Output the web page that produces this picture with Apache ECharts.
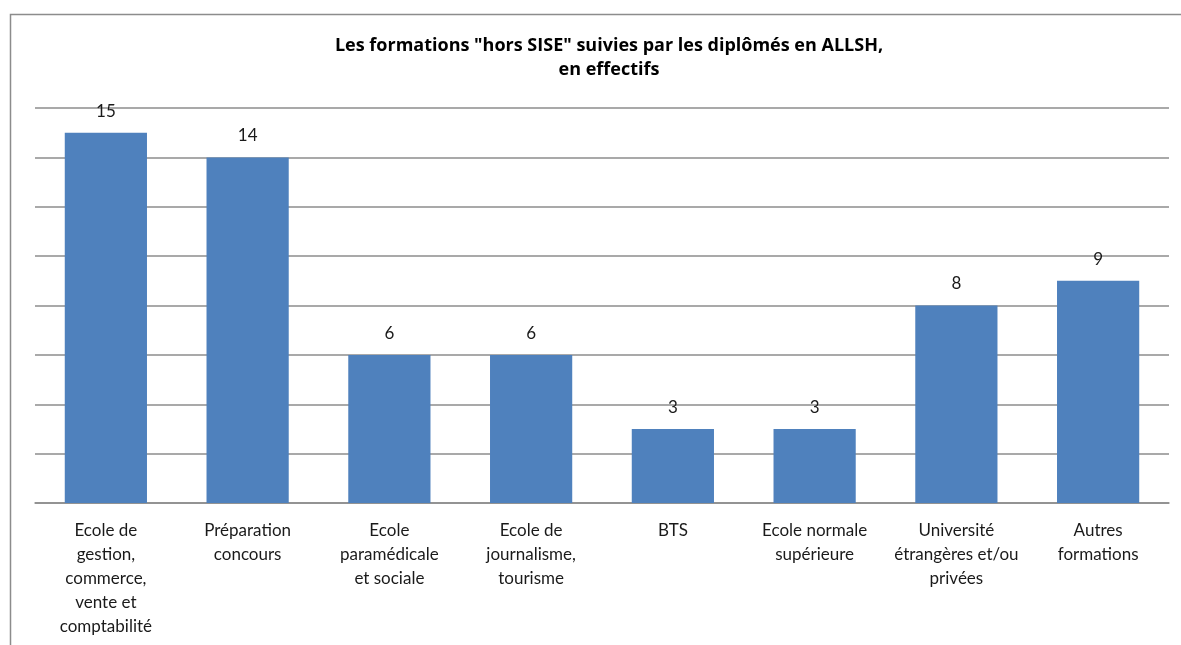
<!DOCTYPE html>
<html>
<head>
<meta charset="utf-8">
<script src="https://cdn.jsdelivr.net/npm/echarts@6/dist/echarts.min.js"></script>
<style>
  html, body { margin: 0; padding: 0; background: #fff; }
  #chart { width: 1181px; height: 645px; }
</style>
</head>
<body>
<div id="chart"></div>
<script>
// categories et effectifs
var categories = [
  'Ecole de\ngestion,\ncommerce,\nvente et\ncomptabilité',
  'Préparation\nconcours',
  'Ecole\nparamédicale\net sociale',
  'Ecole de\njournalisme,\ntourisme',
  'BTS',
  'Ecole normale\nsupérieure',
  'Université\nétrangères et/ou\nprivées',
  'Autres\nformations'
];
var effectifs = [15, 14, 6, 6, 3, 3, 8, 9];

var chartDom = document.getElementById('chart');
var myChart = echarts.init(chartDom);
var option;

option = {
  animation: false,
  title: {
    text: 'Les formations "hors SISE" suivies par les diplômés en ALLSH,\nen effectifs',
    left: 604,
    textAlign: 'center',
    top: 29,
    textStyle: {
      fontFamily: 'Open Sans',
      fontSize: 18,
      fontWeight: 'bold',
      color: '#000',
      lineHeight: 24
    }
  },
  graphic: [
    {
      type: 'rect',
      shape: { x: 10.5, y: 14.5, width: 1300, height: 800 },
      style: { fill: 'none', stroke: '#8c8c8c', lineWidth: 1.5 },
      silent: true
    }
  ],
  grid: {
    left: 35,
    right: 12,
    top: 108,
    bottom: 142,
    containLabel: false
  },
  xAxis: {
    type: 'category',
    data: categories,
    axisLine: { lineStyle: { color: '#8c8c8c', width: 1.5 } },
    axisTick: { show: false },
    axisLabel: {
      interval: 0,
      margin: 16,
      fontFamily: 'Lato',
      fontSize: 17,
      lineHeight: 24,
      color: '#1a1a1a'
    }
  },
  yAxis: {
    type: 'value',
    min: 0,
    max: 16,
    interval: 2,
    axisLabel: { show: false },
    axisLine: { show: false },
    axisTick: { show: false },
    splitLine: { lineStyle: { color: '#8c8c8c', width: 1.5 } }
  },
  series: [
    {
      type: 'bar',
      data: effectifs,
      barWidth: '58%',
      itemStyle: { color: '#4f81bd' },
      label: {
        show: true,
        position: 'top',
        distance: 13,
        fontFamily: 'Lato',
        fontSize: 17,
        color: '#1a1a1a'
      }
    }
  ]
};

option && myChart.setOption(option);
</script>
</body>
</html>
